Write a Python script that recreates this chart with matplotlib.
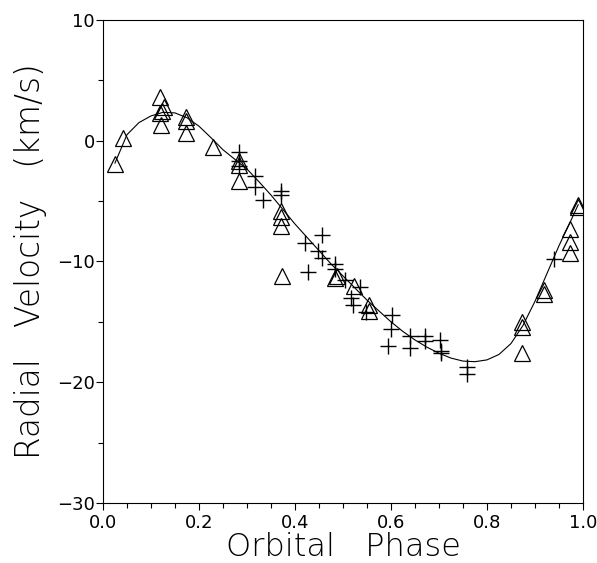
import matplotlib
matplotlib.use("Agg")
import matplotlib.pyplot as plt
from matplotlib.ticker import MultipleLocator

# triangles (one set of velocities)
tri_phase = [0.026, 0.042, 0.118, 0.118, 0.120, 0.127, 0.122, 0.172, 0.172, 0.172,
             0.230, 0.284, 0.284, 0.284, 0.370, 0.370, 0.370, 0.372, 0.484, 0.488,
             0.524, 0.554, 0.554, 0.872, 0.872, 0.872, 0.918, 0.918, 0.972, 0.972,
             0.972, 0.990, 0.990]
tri_vel = [-1.9, 0.2, 3.6, 2.3, 1.3, 2.8, 2.5, 2.0, 1.6, 0.6,
           -0.5, -1.7, -2.0, -3.3, -5.8, -6.3, -7.1, -11.2, -11.4, -11.2,
           -12.0, -13.6, -14.1, -15.0, -15.4, -17.6, -12.4, -12.7, -7.3, -8.4,
           -9.3, -5.3, -5.5]

# plus signs (other set)
plus_phase = [0.284, 0.284, 0.284, 0.316, 0.316, 0.333, 0.370, 0.370, 0.420, 0.428,
              0.448, 0.456, 0.456, 0.484, 0.484, 0.504, 0.516, 0.520, 0.536, 0.548,
              0.603, 0.600, 0.594, 0.639, 0.639, 0.671, 0.671, 0.702, 0.704, 0.704,
              0.758, 0.758, 0.940]
plus_vel = [-0.9, -1.7, -2.1, -2.9, -3.8, -4.9, -4.2, -4.5, -8.5, -10.9,
            -9.1, -7.8, -9.7, -10.2, -10.6, -11.5, -13.0, -13.6, -12.1, -14.2,
            -14.4, -15.6, -17.0, -17.2, -16.2, -16.2, -16.6, -16.5, -17.4, -17.6,
            -18.7, -19.3, -9.8]

# fitted orbit
fit_phase = [0.025, 0.05, 0.075, 0.10, 0.125, 0.15, 0.175, 0.20, 0.225, 0.25,
             0.275, 0.30, 0.325, 0.35, 0.375, 0.40, 0.425, 0.45, 0.475, 0.50,
             0.525, 0.55, 0.575, 0.60, 0.625, 0.65, 0.675, 0.70, 0.725, 0.75,
             0.775, 0.80, 0.825, 0.85, 0.875, 0.90, 0.925, 0.95, 0.975, 0.99]
fit_vel = [-1.85, 0.5, 1.5, 2.05, 2.35, 2.3, 1.9, 1.2, 0.25, -0.75,
           -1.55, -2.35, -3.4, -4.5, -5.7, -6.9, -8.0, -9.1, -10.2, -11.2,
           -12.2, -13.2, -14.1, -15.0, -15.8, -16.5, -17.1, -17.6, -18.0, -18.25,
           -18.3, -18.15, -17.7, -16.8, -15.3, -13.3, -11.0, -8.7, -6.6, -5.3]

plt.rcParams['font.family'] = ['DejaVu Sans']

fig = plt.figure(figsize=(5.97, 5.63), dpi=100)
ax = fig.add_axes([0.1725, 0.1066, 0.804, 0.858])

ax.plot(fit_phase, fit_vel, color='black', linewidth=0.8)
ax.plot(tri_phase, tri_vel, linestyle='none', marker='^', markersize=11,
        markerfacecolor='none', markeredgecolor='black', markeredgewidth=0.9)
ax.plot(plus_phase, plus_vel, linestyle='none', marker='+', markersize=12,
        markeredgecolor='black', markeredgewidth=1.0)

ax.set_xlim(0, 1)
ax.set_ylim(-30, 10)
ax.xaxis.set_major_locator(MultipleLocator(0.2))
ax.xaxis.set_minor_locator(MultipleLocator(0.05))
ax.yaxis.set_major_locator(MultipleLocator(10))
ax.yaxis.set_minor_locator(MultipleLocator(5))
ax.xaxis.set_major_formatter(plt.FormatStrFormatter('%.1f'))
ax.tick_params(which='major', direction='out', length=5, width=0.8, labelsize=13, pad=3)
ax.tick_params(which='minor', direction='out', length=3.5, width=0.8)
ax.tick_params(axis='y', pad=1)
for s in ax.spines.values():
    s.set_linewidth(0.8)

ax.set_xlabel('Orbital   Phase', fontsize=23, labelpad=0, fontweight='light')
ax.set_ylabel('Radial   Velocity   (km/s)', fontsize=23.5, labelpad=7, fontweight='light')

fig.savefig('out.png', dpi=100)
